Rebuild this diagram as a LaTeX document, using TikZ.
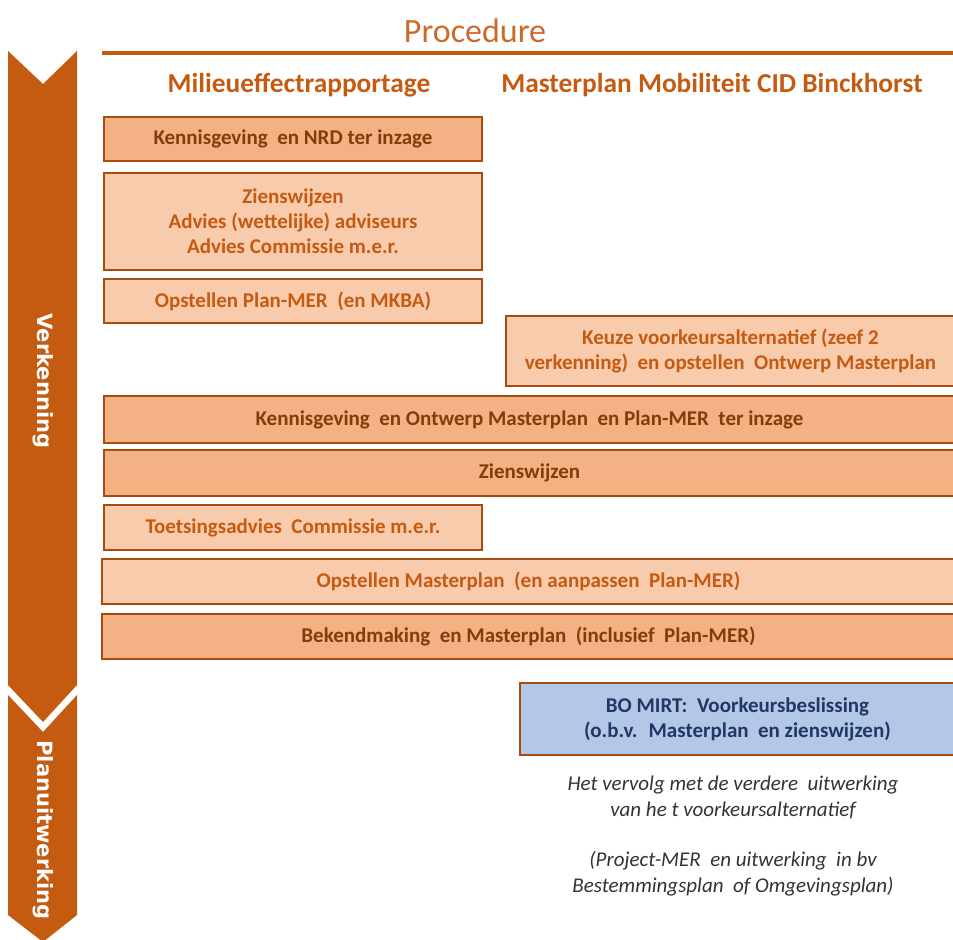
\documentclass[tikz,border=0pt]{standalone}
\usepackage{fontspec}
\setmainfont{Carlito}
\newfontfamily\barfont{DejaVu Sans}
\usepackage{tikz}

\definecolor{rust}{HTML}{C55A11}
\definecolor{darkrust}{HTML}{843C0C}
\definecolor{peach}{HTML}{F4B183}
\definecolor{lightpeach}{HTML}{F8CBAD}
\definecolor{paleblue}{HTML}{B4C7E7}
\definecolor{navy}{HTML}{1F3864}

\begin{document}
\begin{tikzpicture}[x=0.5pt,y=-0.5pt,
    stepbase/.style={draw=rust!85!black,line width=0.6pt,align=center,
        inner sep=0pt,font=\fontsize{10.5}{12.5}\selectfont\bfseries},
    darkbox/.style={stepbase,fill=peach,text=darkrust},
    lightbox/.style={stepbase,fill=lightpeach,text=rust},
    bluebox/.style={stepbase,fill=paleblue,text=navy},
    phase/.style={font=\barfont\fontsize{10.5}{12}\selectfont\bfseries,
        text=white,rotate=-90}]
    \useasboundingbox (0,0) rectangle (953,940);

    % phase bar
    \fill [rust] (8,51) -- (43,84) -- (77,51) -- (77,685) -- (43,722) -- (8,685) -- cycle;
    \fill [rust] (8,695) -- (43,732) -- (77,695) -- (77,915) -- (43,942) -- (8,915) -- cycle;
    \node [phase] (verk) at (43,381) {Verkenning};
    \node [phase] (plan) at (43,830) {Planuitwerking};

    % title
    \node [text=rust!90!white,font=\fontsize{17}{20}\selectfont] (title) at (475,31) {Procedure};
    \draw [rust,line width=2pt] (102,53) -- (955,53);
    \begin{scope}[font=\fontsize{13.7}{16}\selectfont\bfseries,text=rust]
    \node (mer) at (299,85) {Milieueffectrapportage};
    \node (mp) at (712,85) {Masterplan Mobiliteit CID Binckhorst};
    \end{scope}

    % steps
    \node [darkbox,minimum width=189pt,minimum height=22pt] (nrd) at (293,139) {Kennisgeving \ en NRD ter inzage};
    \node [lightbox,minimum width=189pt,minimum height=48.5pt] (zw1) at (293,221.5)
        {Zienswijzen\\Advies (wettelijke) adviseurs\\Advies Commissie m.e.r.};
    \node [lightbox,minimum width=189pt,minimum height=22pt] (pmer) at (293,301) {Opstellen Plan-MER \ (en MKBA)};
    \node [lightbox,minimum width=224.5pt,minimum height=35pt] (keuze) at (730.5,351)
        {Keuze voorkeursalternatief (zeef 2\\verkenning) \ en opstellen \ Ontwerp Masterplan};
    \node [darkbox,minimum width=425.5pt,minimum height=23.5pt] (inz) at (529.5,419.5)
        {Kennisgeving \ en Ontwerp Masterplan \ en Plan-MER \ ter inzage};
    \node [darkbox,minimum width=425.5pt,minimum height=23pt] (zw2) at (529.5,473) {Zienswijzen};
    \node [lightbox,minimum width=189pt,minimum height=22.5pt] (toets) at (293,527.5) {Toetsingsadvies \ Commissie m.e.r.};
    \node [lightbox,minimum width=426.5pt,minimum height=22.5pt] (opst) at (528.5,581.5)
        {Opstellen Masterplan \ (en aanpassen \ Plan-MER)};
    \node [darkbox,minimum width=426.5pt,minimum height=22.5pt] (bek) at (528.5,636.5)
        {Bekendmaking \ en Masterplan \ (inclusief \ Plan-MER)};
    \node [bluebox,minimum width=217.5pt,minimum height=36pt] (bo) at (737.5,719)
        {BO MIRT: \ Voorkeursbeslissing\\(o.b.v. \ Masterplan \ en zienswijzen)};

    % follow-up
    \begin{scope}[font=\fontsize{10.5}{13}\selectfont\itshape,text=black!80,align=center]
    \node (verv) at (733,797) {Het vervolg met de verdere \ uitwerking\\van he t voorkeursalternatief};
    \node (proj) at (733,874) {(Project-MER \ en uitwerking \ in bv\\Bestemmingsplan \ of Omgevingsplan)};
    \end{scope}
\end{tikzpicture}
\end{document}
